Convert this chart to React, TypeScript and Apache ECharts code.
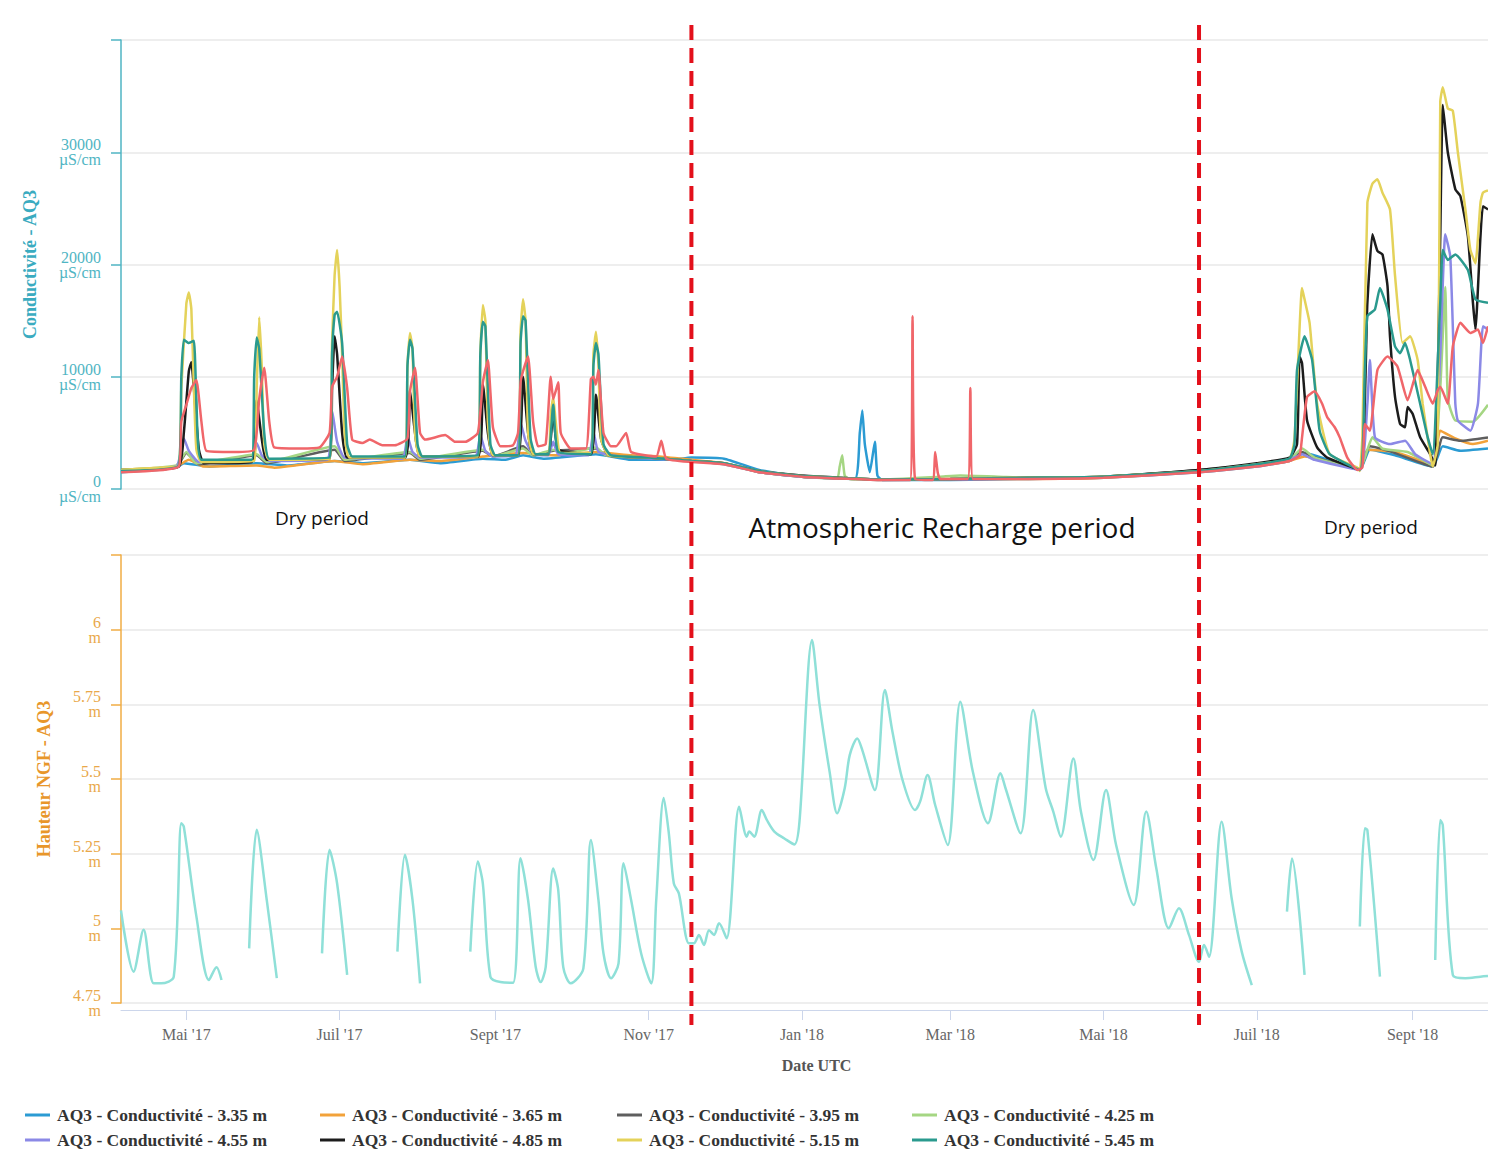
import React, { useEffect, useRef } from 'react';
import * as echarts from 'echarts';

type P = [string, number | null];

const X_MIN = '2017-04-05';
const X_MAX = '2018-10-01';
const TICK_DATES = ['2017-05-01', '2017-07-01', '2017-09-01', '2017-11-01', '2018-01-01', '2018-03-01', '2018-05-01', '2018-07-01', '2018-09-01'];
const MONTH_NAMES = ['Jan', 'Févr', 'Mar', 'Avr', 'Mai', 'Juin', 'Juil', 'Août', 'Sept', 'Oct', 'Nov', 'Déc'];
const PERIOD_BOUNDS = ['2017-11-18', '2018-06-08'];
const PERIOD_LABELS = ['Dry period', 'Atmospheric Recharge period', 'Dry period'];

const COND_NAMES = [
  'AQ3 - Conductivité - 3.35 m',
  'AQ3 - Conductivité - 3.65 m',
  'AQ3 - Conductivité - 3.95 m',
  'AQ3 - Conductivité - 4.25 m',
  'AQ3 - Conductivité - 4.55 m',
  'AQ3 - Conductivité - 4.85 m',
  'AQ3 - Conductivité - 5.15 m',
  'AQ3 - Conductivité - 5.45 m',
  'AQ3 - Conductivité - 5.75 m',
];
const WATER_NAME = "AQ3 - Niveau d'eau - 1.30 m";
const COND_COLORS = ['#2b9bd3', '#f2a23a', '#5e5e5e', '#a5d683', '#8b89e6', '#1c1c1c', '#e4d25a', '#2a9a8e', '#f0666a'];
const WATER_COLOR = '#8fe0d8';

const s335: P[] = [
  ['2017-04-05', 1500], ['2017-04-27', 1900], ['2017-04-30', 2300], ['2017-05-10', 2000], ['2017-05-29', 2300], ['2017-06-10', 2100],
  ['2017-06-29', 2500], ['2017-07-10', 2300], ['2017-07-29', 2600], ['2017-08-10', 2300], ['2017-08-27', 2700], ['2017-09-05', 2600],
  ['2017-09-12', 3000], ['2017-09-20', 2700], ['2017-10-11', 3100], ['2017-10-25', 2600], ['2017-11-10', 2600], ['2017-11-18', 2800],
  ['2017-12-01', 2700], ['2017-12-15', 1700], ['2018-01-01', 1100], ['2018-01-22', 900], ['2018-01-24', 5000], ['2018-01-25', 7000],
  ['2018-01-26', 4000], ['2018-01-28', 1500], ['2018-01-30', 4200], ['2018-01-31', 1200], ['2018-02-02', 800], ['2018-03-01', 800],
  ['2018-04-01', 900], ['2018-05-01', 1000], ['2018-06-08', 1500], ['2018-07-01', 2000], ['2018-07-14', 2500], ['2018-07-20', 3200],
  ['2018-08-01', 2400], ['2018-08-11', 1700], ['2018-08-15', 3500], ['2018-08-25', 3000], ['2018-09-09', 2000], ['2018-09-13', 3800],
  ['2018-09-20', 3400], ['2018-10-01', 3600],
];
const s365: P[] = [
  ['2017-04-05', 1700], ['2017-04-27', 2000], ['2017-05-02', 2600], ['2017-05-08', 2000], ['2017-05-29', 2100], ['2017-06-05', 1900],
  ['2017-06-29', 2500], ['2017-07-10', 2200], ['2017-07-29', 2600], ['2017-08-10', 2500], ['2017-08-27', 2900], ['2017-09-12', 3200],
  ['2017-09-24', 3000], ['2017-10-11', 3300], ['2017-10-25', 3000], ['2017-11-05', 2900], ['2017-11-18', 2600], ['2017-12-01', 2300],
  ['2017-12-15', 1500], ['2018-01-01', 1100], ['2018-02-01', 850], ['2018-03-01', 900], ['2018-04-01', 900], ['2018-05-01', 1000],
  ['2018-06-08', 1600], ['2018-07-01', 2100], ['2018-07-14', 2500], ['2018-07-20', 2900], ['2018-08-01', 2300], ['2018-08-11', 1800],
  ['2018-08-14', 3500], ['2018-08-25', 3300], ['2018-09-09', 2200], ['2018-09-12', 5200], ['2018-09-18', 4500], ['2018-09-25', 4000],
  ['2018-10-01', 4300],
];
const s395: P[] = [
  ['2017-04-05', 1600], ['2017-04-27', 2000], ['2017-05-01', 3200], ['2017-05-06', 2200], ['2017-05-29', 3000], ['2017-06-02', 2300],
  ['2017-06-29', 3500], ['2017-07-03', 2500], ['2017-07-29', 3200], ['2017-08-02', 2600], ['2017-08-27', 3400], ['2017-08-31', 2900],
  ['2017-09-12', 3800], ['2017-09-16', 3000], ['2017-09-24', 3400], ['2017-10-11', 3600], ['2017-10-15', 3000], ['2017-11-01', 2800],
  ['2017-11-18', 2500], ['2017-12-01', 2300], ['2017-12-15', 1500], ['2018-01-01', 1100], ['2018-02-01', 800], ['2018-03-01', 850],
  ['2018-04-01', 1000], ['2018-05-01', 1100], ['2018-06-08', 1700], ['2018-07-01', 2200], ['2018-07-14', 2700], ['2018-07-19', 3300],
  ['2018-07-24', 2800], ['2018-08-11', 1800], ['2018-08-15', 3800], ['2018-08-25', 3200], ['2018-09-09', 2000], ['2018-09-13', 4600],
  ['2018-09-20', 4300], ['2018-10-01', 4600],
];
const s425: P[] = [
  ['2017-04-05', 1700], ['2017-04-27', 2100], ['2017-05-01', 3300], ['2017-05-05', 2300], ['2017-05-29', 3100], ['2017-06-02', 2400],
  ['2017-06-29', 3800], ['2017-07-03', 2600], ['2017-07-29', 3300], ['2017-08-02', 2700], ['2017-08-27', 3500], ['2017-08-31', 2900],
  ['2017-09-12', 3600], ['2017-09-16', 3000], ['2017-09-24', 3500], ['2017-09-28', 3100], ['2017-10-11', 3700], ['2017-10-15', 3000],
  ['2017-11-01', 2800], ['2017-11-18', 2500], ['2017-12-01', 2200], ['2017-12-15', 1500], ['2018-01-01', 1100], ['2018-01-15', 950],
  ['2018-01-16', 2000], ['2018-01-17', 3000], ['2018-01-18', 1200], ['2018-01-20', 900], ['2018-02-01', 850], ['2018-02-25', 1100],
  ['2018-03-05', 1200], ['2018-03-20', 1100], ['2018-04-01', 1000], ['2018-05-01', 1100], ['2018-06-08', 1600], ['2018-07-01', 2100],
  ['2018-07-14', 2600], ['2018-07-19', 3600], ['2018-07-24', 2800], ['2018-08-11', 1800], ['2018-08-14', 3500], ['2018-08-16', 4600],
  ['2018-08-20', 3600], ['2018-08-30', 3300], ['2018-09-09', 2100], ['2018-09-12', 9000], ['2018-09-14', 18000], ['2018-09-15', 8000],
  ['2018-09-18', 6100], ['2018-09-25', 6000], ['2018-10-01', 7500],
];
const s455: P[] = [
  ['2017-04-05', 1600], ['2017-04-27', 2000], ['2017-04-29', 3500], ['2017-04-30', 4500], ['2017-05-02', 3400], ['2017-05-06', 2400],
  ['2017-05-27', 2500], ['2017-05-29', 4100], ['2017-05-31', 3000], ['2017-06-03', 2500], ['2017-06-26', 2600], ['2017-06-28', 7000],
  ['2017-06-30', 4200], ['2017-07-03', 2800], ['2017-07-26', 2700], ['2017-07-28', 4700], ['2017-07-30', 3300], ['2017-08-02', 2800],
  ['2017-08-24', 2900], ['2017-08-26', 4800], ['2017-08-28', 3400], ['2017-08-31', 2900], ['2017-09-09', 3000], ['2017-09-11', 5900],
  ['2017-09-13', 4300], ['2017-09-16', 3100], ['2017-09-22', 3000], ['2017-09-24', 4200], ['2017-09-26', 3100], ['2017-10-08', 3000],
  ['2017-10-10', 5100], ['2017-10-12', 3300], ['2017-10-20', 2900], ['2017-11-18', 2500], ['2017-12-01', 2200], ['2017-12-15', 1500],
  ['2018-01-01', 1100], ['2018-02-01', 850], ['2018-03-01', 850], ['2018-04-01', 950], ['2018-05-01', 1050], ['2018-06-08', 1600],
  ['2018-07-01', 2100], ['2018-07-14', 2600], ['2018-07-19', 3100], ['2018-07-24', 2600], ['2018-08-11', 1700], ['2018-08-14', 7600],
  ['2018-08-15', 11500], ['2018-08-17', 4600], ['2018-08-23', 4000], ['2018-08-29', 4300], ['2018-09-02', 3100], ['2018-09-09', 2200],
  ['2018-09-12', 12000], ['2018-09-14', 22700], ['2018-09-16', 20700], ['2018-09-18', 7600], ['2018-09-19', 6100], ['2018-09-24', 5200],
  ['2018-09-27', 7600], ['2018-09-29', 14500], ['2018-10-01', 14200],
];
const s485: P[] = [
  ['2017-04-05', 1700], ['2017-04-28', 2000], ['2017-04-30', 5000], ['2017-05-02', 10500], ['2017-05-03', 11300], ['2017-05-04', 9000],
  ['2017-05-06', 3500], ['2017-05-08', 2300], ['2017-05-27', 2400], ['2017-05-29', 7900], ['2017-05-31', 4500], ['2017-06-02', 2600],
  ['2017-06-27', 2700], ['2017-06-28', 9000], ['2017-06-29', 13600], ['2017-06-30', 12000], ['2017-07-02', 5000], ['2017-07-04', 2800],
  ['2017-07-27', 2800], ['2017-07-29', 8800], ['2017-07-31', 5000], ['2017-08-02', 2900], ['2017-08-25', 2900], ['2017-08-27', 9300],
  ['2017-08-29', 5000], ['2017-08-31', 3000], ['2017-09-10', 3000], ['2017-09-12', 10000], ['2017-09-14', 5000], ['2017-09-16', 3100],
  ['2017-09-22', 3100], ['2017-09-24', 6800], ['2017-09-26', 3500], ['2017-10-09', 3100], ['2017-10-11', 8400], ['2017-10-13', 4500],
  ['2017-10-16', 3000], ['2017-11-01', 2800], ['2017-11-18', 2500], ['2017-12-01', 2300], ['2017-12-15', 1600], ['2018-01-01', 1200],
  ['2018-02-01', 850], ['2018-03-01', 900], ['2018-04-01', 1000], ['2018-05-01', 1100], ['2018-06-08', 1700], ['2018-07-01', 2300],
  ['2018-07-14', 2800], ['2018-07-17', 4000], ['2018-07-18', 11800], ['2018-07-19', 11200], ['2018-07-21', 6100], ['2018-07-25', 3700],
  ['2018-07-29', 2800], ['2018-08-11', 1700], ['2018-08-14', 16600], ['2018-08-16', 22700], ['2018-08-18', 21200], ['2018-08-20', 20900],
  ['2018-08-22', 18100], ['2018-08-23', 13600], ['2018-08-25', 8200], ['2018-08-27', 5800], ['2018-08-29', 5500], ['2018-08-30', 7300],
  ['2018-09-01', 6700], ['2018-09-04', 4600], ['2018-09-08', 3100], ['2018-09-10', 2100], ['2018-09-12', 22500], ['2018-09-13', 34200],
  ['2018-09-15', 30000], ['2018-09-18', 26700], ['2018-09-20', 26100], ['2018-09-23', 22500], ['2018-09-25', 16600], ['2018-09-26', 14200],
  ['2018-09-28', 22500], ['2018-09-29', 25200], ['2018-10-01', 24900],
];
const s515: P[] = [
  ['2017-04-05', 1700], ['2017-04-20', 1900], ['2017-04-28', 2100], ['2017-04-29', 9000], ['2017-05-01', 16500], ['2017-05-02', 17500],
  ['2017-05-03', 16000], ['2017-05-04', 9000], ['2017-05-05', 3500], ['2017-05-07', 2400], ['2017-05-28', 2500], ['2017-05-29', 9000],
  ['2017-05-30', 15300], ['2017-05-31', 11000], ['2017-06-01', 4000], ['2017-06-03', 2600], ['2017-06-27', 2700], ['2017-06-28', 13000],
  ['2017-06-29', 19000], ['2017-06-30', 21300], ['2017-07-01', 18000], ['2017-07-02', 12000], ['2017-07-03', 5000], ['2017-07-05', 2800],
  ['2017-07-27', 2800], ['2017-07-28', 11000], ['2017-07-29', 13900], ['2017-07-30', 12500], ['2017-07-31', 5000], ['2017-08-02', 2900],
  ['2017-08-25', 2900], ['2017-08-26', 12000], ['2017-08-27', 16400], ['2017-08-28', 15000], ['2017-08-29', 6000], ['2017-08-31', 3000],
  ['2017-09-10', 3000], ['2017-09-11', 14000], ['2017-09-12', 16900], ['2017-09-13', 15000], ['2017-09-14', 5000], ['2017-09-16', 3100],
  ['2017-09-22', 3100], ['2017-09-23', 6500], ['2017-09-24', 8200], ['2017-09-25', 6000], ['2017-09-27', 3200], ['2017-10-09', 3200],
  ['2017-10-10', 12000], ['2017-10-11', 14000], ['2017-10-12', 11000], ['2017-10-13', 4500], ['2017-10-16', 3000], ['2017-11-01', 2800],
  ['2017-11-18', 2500], ['2017-12-01', 2300], ['2017-12-15', 1600], ['2018-01-01', 1150], ['2018-02-01', 850], ['2018-03-01', 900],
  ['2018-04-01', 1000], ['2018-05-01', 1100], ['2018-06-08', 1600], ['2018-07-01', 2200], ['2018-07-14', 2700], ['2018-07-16', 4500],
  ['2018-07-19', 17900], ['2018-07-20', 16900], ['2018-07-22', 14800], ['2018-07-25', 7600], ['2018-07-30', 3100], ['2018-08-10', 1900],
  ['2018-08-11', 1600], ['2018-08-12', 4600], ['2018-08-14', 25500], ['2018-08-16', 27200], ['2018-08-18', 27600], ['2018-08-20', 26400],
  ['2018-08-23', 24900], ['2018-08-25', 19000], ['2018-08-28', 13000], ['2018-08-31', 13600], ['2018-09-03', 11500], ['2018-09-05', 7600],
  ['2018-09-08', 3100], ['2018-09-09', 2000], ['2018-09-11', 4000], ['2018-09-12', 34500], ['2018-09-13', 35800], ['2018-09-15', 33900],
  ['2018-09-17', 33700], ['2018-09-19', 30000], ['2018-09-22', 24900], ['2018-09-24', 21300], ['2018-09-26', 20100], ['2018-09-28', 25500],
  ['2018-09-29', 26400], ['2018-10-01', 26600],
];
const s545: P[] = [
  ['2017-04-05', 1600], ['2017-04-28', 2100], ['2017-04-29', 10000], ['2017-04-30', 13300], ['2017-05-02', 13000], ['2017-05-04', 13200],
  ['2017-05-05', 8000], ['2017-05-07', 2600], ['2017-05-27', 2600], ['2017-05-28', 10000], ['2017-05-29', 13500], ['2017-05-30', 12500],
  ['2017-06-01', 5000], ['2017-06-03', 2700], ['2017-06-27', 2800], ['2017-06-28', 12000], ['2017-06-29', 15500], ['2017-06-30', 15800],
  ['2017-07-02', 13000], ['2017-07-04', 4000], ['2017-07-06', 2900], ['2017-07-27', 2900], ['2017-07-28', 11000], ['2017-07-29', 13300],
  ['2017-07-30', 12500], ['2017-08-01', 4000], ['2017-08-03', 2900], ['2017-08-25', 3000], ['2017-08-26', 12000], ['2017-08-27', 14900],
  ['2017-08-28', 14500], ['2017-08-30', 4000], ['2017-09-01', 3000], ['2017-09-10', 3000], ['2017-09-11', 13000], ['2017-09-12', 15400],
  ['2017-09-13', 15000], ['2017-09-15', 4500], ['2017-09-17', 3100], ['2017-09-22', 3100], ['2017-09-24', 7500], ['2017-09-26', 3300],
  ['2017-10-09', 3100], ['2017-10-10', 11000], ['2017-10-11', 13000], ['2017-10-12', 12000], ['2017-10-14', 4000], ['2017-10-17', 3000],
  ['2017-11-01', 2800], ['2017-11-18', 2500], ['2017-12-01', 2300], ['2017-12-15', 1600], ['2018-01-01', 1150], ['2018-02-01', 850],
  ['2018-03-01', 900], ['2018-04-01', 1000], ['2018-05-01', 1100], ['2018-06-08', 1600], ['2018-07-01', 2200], ['2018-07-14', 2700],
  ['2018-07-16', 4000], ['2018-07-17', 10600], ['2018-07-20', 13600], ['2018-07-23', 11500], ['2018-07-26', 5200], ['2018-07-30', 3100],
  ['2018-08-11', 1700], ['2018-08-13', 10600], ['2018-08-14', 15400], ['2018-08-17', 16000], ['2018-08-19', 17900], ['2018-08-22', 16000],
  ['2018-08-25', 12700], ['2018-08-27', 12100], ['2018-08-29', 13000], ['2018-08-31', 11500], ['2018-09-04', 7600], ['2018-09-07', 4600],
  ['2018-09-09', 3100], ['2018-09-12', 16600], ['2018-09-13', 21300], ['2018-09-15', 20400], ['2018-09-18', 20900], ['2018-09-23', 19500],
  ['2018-09-26', 16900], ['2018-10-01', 16600],
];
const s575: P[] = [
  ['2017-04-05', 1500], ['2017-04-28', 2000], ['2017-04-29', 6000], ['2017-05-01', 7500], ['2017-05-03', 9000], ['2017-05-05', 9700],
  ['2017-05-07', 6000], ['2017-05-09', 3400], ['2017-05-20', 3300], ['2017-05-28', 3500], ['2017-05-30', 8000], ['2017-06-01', 10800],
  ['2017-06-03', 6000], ['2017-06-05', 3700], ['2017-06-15', 3600], ['2017-06-23', 3700], ['2017-06-27', 5000], ['2017-06-28', 9100],
  ['2017-06-30', 10000], ['2017-07-02', 11800], ['2017-07-04', 9000], ['2017-07-06', 4400], ['2017-07-10', 4100], ['2017-07-13', 4400],
  ['2017-07-18', 3900], ['2017-07-23', 3900], ['2017-07-28', 4500], ['2017-07-29', 8700], ['2017-07-31', 10800], ['2017-08-02', 5000],
  ['2017-08-04', 4400], ['2017-08-12', 4800], ['2017-08-16', 4200], ['2017-08-20', 4200], ['2017-08-25', 5000], ['2017-08-27', 9500],
  ['2017-08-29', 11500], ['2017-08-31', 5500], ['2017-09-03', 3800], ['2017-09-08', 3900], ['2017-09-10', 5000], ['2017-09-11', 9500],
  ['2017-09-12', 10500], ['2017-09-14', 11800], ['2017-09-16', 6000], ['2017-09-18', 3800], ['2017-09-21', 4000], ['2017-09-23', 10000],
  ['2017-09-24', 8000], ['2017-09-26', 9500], ['2017-09-27', 5000], ['2017-10-01', 3600], ['2017-10-07', 3600], ['2017-10-09', 9800],
  ['2017-10-10', 10000], ['2017-10-11', 9300], ['2017-10-12', 10600], ['2017-10-14', 5000], ['2017-10-17', 3800], ['2017-10-19', 3800],
  ['2017-10-23', 5000], ['2017-10-25', 3300], ['2017-11-04', 2900], ['2017-11-06', 4300], ['2017-11-08', 2700], ['2017-11-18', 2400],
  ['2017-12-01', 2200], ['2017-12-15', 1500], ['2018-01-01', 1100], ['2018-02-01', 800], ['2018-02-13', 800], ['2018-02-14', 15400],
  ['2018-02-15', 900], ['2018-02-22', 800], ['2018-02-23', 3300], ['2018-02-24', 1500], ['2018-02-25', 900], ['2018-03-08', 900],
  ['2018-03-09', 9000], ['2018-03-10', 900], ['2018-04-01', 900], ['2018-05-01', 1000], ['2018-06-08', 1500], ['2018-07-01', 2000],
  ['2018-07-14', 2500], ['2018-07-18', 3000], ['2018-07-19', 4600], ['2018-07-21', 8200], ['2018-07-24', 8700], ['2018-07-27', 7600],
  ['2018-07-29', 6400], ['2018-08-01', 5500], ['2018-08-03', 4600], ['2018-08-06', 2800], ['2018-08-10', 1700], ['2018-08-12', 1900],
  ['2018-08-13', 5800], ['2018-08-15', 5200], ['2018-08-18', 10600], ['2018-08-22', 11800], ['2018-08-26', 10900], ['2018-08-30', 7900],
  ['2018-09-03', 10600], ['2018-09-06', 9100], ['2018-09-09', 7600], ['2018-09-11', 8800], ['2018-09-12', 9100], ['2018-09-15', 7600],
  ['2018-09-17', 12700], ['2018-09-20', 14800], ['2018-09-24', 13900], ['2018-09-27', 14200], ['2018-09-29', 13000], ['2018-10-01', 14500],
];
const COND_DATA: P[][] = [s335, s365, s395, s425, s455, s485, s515, s545, s575];

const water: P[] = [
  ['2017-04-05', 5.06], ['2017-04-10', 4.855], ['2017-04-14', 4.995], ['2017-04-18', 4.816], ['2017-04-21', 4.816], ['2017-04-26', 4.838],
  ['2017-04-29', 5.352], ['2017-04-30', 5.34], ['2017-05-05', 5.04], ['2017-05-10', 4.827], ['2017-05-13', 4.87], ['2017-05-15', 4.827],
  ['2017-05-20', null],
  ['2017-05-26', 4.933], ['2017-05-29', 5.33], ['2017-06-02', 5.095], ['2017-06-06', 4.833], ['2017-06-15', null],
  ['2017-06-24', 4.916], ['2017-06-27', 5.263], ['2017-06-30', 5.15], ['2017-07-04', 4.844], ['2017-07-15', null],
  ['2017-07-24', 4.922], ['2017-07-27', 5.246], ['2017-07-30', 5.095], ['2017-08-02', 4.816], ['2017-08-12', null],
  ['2017-08-22', 4.922], ['2017-08-25', 5.224], ['2017-08-27', 5.15], ['2017-08-30', 4.838], ['2017-09-03', 4.82], ['2017-09-08', 4.818],
  ['2017-09-11', 5.235], ['2017-09-14', 5.095], ['2017-09-17', 4.872], ['2017-09-19', 4.82], ['2017-09-21', 4.87], ['2017-09-24', 5.2],
  ['2017-09-26', 5.128], ['2017-09-28', 4.87], ['2017-10-01', 4.816], ['2017-10-06', 4.866], ['2017-10-09', 5.296], ['2017-10-12', 5.095],
  ['2017-10-14', 4.916], ['2017-10-17', 4.833], ['2017-10-20', 4.883], ['2017-10-22', 5.218], ['2017-10-25', 5.095], ['2017-10-29', 4.916],
  ['2017-11-02', 4.816], ['2017-11-04', 5.095], ['2017-11-07', 5.436], ['2017-11-09', 5.319], ['2017-11-11', 5.15], ['2017-11-13', 5.117],
  ['2017-11-17', 4.95], ['2017-11-19', 4.95], ['2017-11-21', 4.978], ['2017-11-23', 4.944], ['2017-11-25', 4.994], ['2017-11-27', 4.978],
  ['2017-11-29', 5.017], ['2017-12-02', 4.967], ['2017-12-07', 5.407], ['2017-12-10', 5.307], ['2017-12-11', 5.324], ['2017-12-13', 5.307],
  ['2017-12-16', 5.396], ['2017-12-18', 5.363], ['2017-12-21', 5.324], ['2017-12-25', 5.301], ['2017-12-29', 5.281], ['2017-12-31', 5.357],
  ['2018-01-05', 5.965], ['2018-01-08', 5.748], ['2018-01-12', 5.524], ['2018-01-15', 5.385], ['2018-01-18', 5.469], ['2018-01-20', 5.58],
  ['2018-01-23', 5.636], ['2018-01-25', 5.597], ['2018-01-30', 5.463], ['2018-02-03', 5.798], ['2018-02-06', 5.658], ['2018-02-10', 5.497],
  ['2018-02-15', 5.396], ['2018-02-17', 5.424], ['2018-02-20', 5.513], ['2018-02-23', 5.413], ['2018-02-28', 5.279], ['2018-03-05', 5.759],
  ['2018-03-10', 5.524], ['2018-03-16', 5.352], ['2018-03-21', 5.519], ['2018-03-23', 5.469], ['2018-03-29', 5.318], ['2018-04-03', 5.731],
  ['2018-04-08', 5.469], ['2018-04-11', 5.391], ['2018-04-14', 5.307], ['2018-04-19', 5.569], ['2018-04-22', 5.391], ['2018-04-27', 5.229],
  ['2018-05-02', 5.463], ['2018-05-06', 5.279], ['2018-05-13', 5.078], ['2018-05-18', 5.391], ['2018-05-22', 5.201], ['2018-05-27', 5.0],
  ['2018-05-31', 5.067], ['2018-06-04', 4.978], ['2018-06-08', 4.888], ['2018-06-10', 4.944], ['2018-06-12', 4.905], ['2018-06-17', 5.357],
  ['2018-06-21', 5.1], ['2018-06-25', 4.922], ['2018-06-29', 4.81], ['2018-07-06', null],
  ['2018-07-13', 5.056], ['2018-07-15', 5.234], ['2018-07-20', 4.844], ['2018-08-01', null],
  ['2018-08-11', 5.006], ['2018-08-13', 5.335], ['2018-08-14', 5.329], ['2018-08-19', 4.838], ['2018-09-01', null],
  ['2018-09-10', 4.894], ['2018-09-12', 5.363], ['2018-09-13', 5.346], ['2018-09-17', 4.844], ['2018-09-22', 4.833], ['2018-09-28', 4.838],
  ['2018-10-01', 4.84],
];

const LEGEND_COLUMNS: string[][] = [
  [COND_NAMES[0], COND_NAMES[4], COND_NAMES[8]],
  [COND_NAMES[1], COND_NAMES[5], WATER_NAME],
  [COND_NAMES[2], COND_NAMES[6]],
  [COND_NAMES[3], COND_NAMES[7]],
];

const ts = (s: string) => {
  const [y, m, d] = s.split('-').map(Number);
  return new Date(y, m - 1, d).getTime();
};
const toXY = (arr: P[]) => arr.map(([d, v]) => [ts(d), v]);

const SERIF = "'Liberation Serif', 'Times New Roman', serif";

export default function App() {
  const ref = useRef<HTMLDivElement>(null);
  useEffect(() => {
    if (!ref.current) return;
    const chart = echarts.init(ref.current, undefined, { renderer: 'svg' });
    const legendLefts = [25, 320, 617, 912];
    const tickValues = TICK_DATES.map(ts);
    const option: any = {
      animation: false,
      backgroundColor: '#ffffff',
      grid: [
        { left: 121, right: 0, top: 40, height: 449 },
        { left: 121, right: 0, top: 555, height: 448 },
      ],
      xAxis: [
        { type: 'value', gridIndex: 0, min: ts(X_MIN), max: ts(X_MAX), show: false, splitLine: { show: false } },
        {
          type: 'value', gridIndex: 1, min: ts(X_MIN), max: ts(X_MAX), offset: 7,
          name: 'Date UTC', nameLocation: 'middle', nameGap: 47,
          nameTextStyle: { fontFamily: SERIF, fontSize: 16, fontWeight: 'bold', color: '#555', padding: [0, 0, 0, 24] },
          axisLine: { lineStyle: { color: '#ccd6eb', width: 1 } },
          axisTick: { show: true, length: 10, customValues: tickValues, lineStyle: { color: '#ccd6eb' } },
          axisLabel: {
            customValues: tickValues, margin: 16, fontFamily: SERIF, fontSize: 16, color: '#666',
            formatter: (v: number) => {
              const d = new Date(v);
              return `${MONTH_NAMES[d.getMonth()]} '${String(d.getFullYear()).slice(2)}`;
            },
          },
          splitLine: { show: false },
        },
      ],
      yAxis: [
        {
          type: 'value', gridIndex: 0, min: 0, max: 40000, interval: 10000,
          name: 'Conductivité - AQ3', nameLocation: 'middle', nameGap: 82,
          nameTextStyle: { fontFamily: SERIF, fontSize: 18, fontWeight: 'bold', color: '#3aabc0' },
          axisLine: { show: true, lineStyle: { color: '#4fb5c3', width: 1.5 } },
          axisTick: { show: true, length: 10, lineStyle: { color: '#4fb5c3', width: 1.5 } },
          axisLabel: {
            margin: 20, fontFamily: SERIF, fontSize: 16, lineHeight: 15, color: '#4fb5c3', align: 'right',
            formatter: (v: number) => (v === 40000 ? '' : `${v}\nµS/cm`),
          },
          splitLine: { show: true, lineStyle: { color: '#e8e8e8', width: 1.5 } },
        },
        {
          type: 'value', gridIndex: 1, min: 4.75, max: 6.25, interval: 0.25,
          name: 'Hauteur NGF - AQ3', nameLocation: 'middle', nameGap: 68,
          nameTextStyle: { fontFamily: SERIF, fontSize: 18, fontWeight: 'bold', color: '#e8962a' },
          axisLine: { show: true, lineStyle: { color: '#f0ac45', width: 1.5 } },
          axisTick: { show: true, length: 10, lineStyle: { color: '#f0ac45', width: 1.5 } },
          axisLabel: {
            margin: 20, fontFamily: SERIF, fontSize: 16, lineHeight: 15, color: '#e9a84a', align: 'right',
            formatter: (v: number) => (Math.abs(v - 6.25) < 1e-6 ? '' : `${+v.toFixed(2)}\nm`),
          },
          splitLine: { show: true, lineStyle: { color: '#e8e8e8', width: 1.5 } },
        },
      ],
      legend: LEGEND_COLUMNS.map((col, i) => ({
        data: col, orient: 'vertical', left: legendLefts[i], top: 1106, height: 120, padding: 0, itemGap: 7,
        icon: 'rect', itemWidth: 25, itemHeight: 3, selectedMode: false,
        textStyle: { fontFamily: SERIF, fontSize: 17.5, fontWeight: 'bold', color: '#333', lineHeight: 17, padding: [0, 0, 0, 2] },
      })),
      series: [
        ...COND_NAMES.map((name, i) => ({
          name, type: 'line', xAxisIndex: 0, yAxisIndex: 0, data: toXY(COND_DATA[i]), showSymbol: false,
          color: COND_COLORS[i], lineStyle: { width: 2.5, color: COND_COLORS[i] }, smooth: 0.15,
        })),
        {
          name: WATER_NAME, type: 'line', xAxisIndex: 1, yAxisIndex: 1, data: toXY(water), showSymbol: false,
          connectNulls: false, smooth: 0.3, color: WATER_COLOR, lineStyle: { width: 2.5, color: WATER_COLOR },
        },
      ],
    };
    chart.setOption(option);

    const bx = PERIOD_BOUNDS.map((d) => chart.convertToPixel({ xAxisIndex: 1 }, ts(d)) as number);
    const textFont = "'Open Sans', 'Noto Sans', sans-serif";
    const mkText = (id: string, text: string, x: number, y: number, size: number) => ({
      type: 'text', id, z: 100, x, y,
      style: { text, fontFamily: textFont, fontSize: size, fill: '#111', textAlign: 'center', textVerticalAlign: 'middle', align: 'center', verticalAlign: 'middle' },
    });
    const graphics: any[] = [
      ...bx.map((x, i) => ({
        type: 'line', id: `bound${i}`, z: 100,
        shape: { x1: x, y1: 25, x2: x, y2: 1025 },
        style: { stroke: '#e3101b', lineWidth: 4, lineDash: [15, 8] },
      })),
      mkText('lab0', PERIOD_LABELS[0], 322, 518, 19),
      mkText('lab1', PERIOD_LABELS[1], 942, 527, 28),
      mkText('lab2', PERIOD_LABELS[2], 1371, 527, 19),
    ];
    chart.setOption({ graphic: graphics });

    return () => chart.dispose();
  }, []);
  return <div ref={ref} style={{ position: 'absolute', left: 0, top: 0, width: 1488, height: 1158 }} />;
}
